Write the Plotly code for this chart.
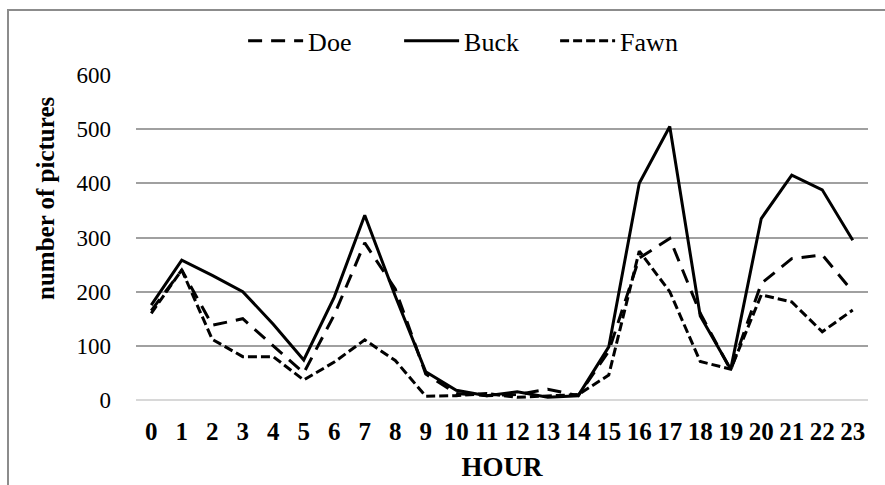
import plotly.graph_objects as go

hours = [str(h) for h in range(24)]
doe = [165, 240, 138, 150, 100, 50, 157, 290, 205, 48, 12, 8, 10, 20, 8, 90, 262, 298, 160, 55, 215, 261, 268, 200]
buck = [175, 258, 230, 200, 140, 74, 190, 341, 192, 52, 18, 8, 15, 5, 8, 98, 400, 505, 155, 57, 335, 415, 388, 295]
fawn = [160, 240, 112, 80, 80, 37, 70, 111, 73, 7, 8, 12, 5, 8, 10, 46, 275, 200, 71, 57, 194, 181, 126, 166]
y_ticks = [0, 100, 200, 300, 400, 500, 600]

FONT = "Liberation Serif"

fig = go.Figure()
fig.add_trace(go.Scatter(x=hours, y=doe, name="Doe", mode="lines",
                         line=dict(color="black", width=3, dash="14px,9px")))
fig.add_trace(go.Scatter(x=hours, y=buck, name="Buck", mode="lines",
                         line=dict(color="black", width=3)))
fig.add_trace(go.Scatter(x=hours, y=fawn, name="Fawn", mode="lines",
                         line=dict(color="black", width=3, dash="9px,4px")))

fig.update_layout(
    width=885, height=485,
    margin=dict(l=136, r=17, t=75, b=85, autoexpand=False),
    paper_bgcolor="white", plot_bgcolor="white",
    font=dict(family=FONT, color="black"),
    showlegend=True,
    legend=dict(orientation="h", x=0.466, xanchor="center", y=1.105, yanchor="middle",
                font=dict(size=26, family=FONT, color="black"), itemwidth=55,
                entrywidth=86, bgcolor="rgba(0,0,0,0)"),
    xaxis=dict(type="category", categoryorder="array", categoryarray=hours,
               range=[-0.5, 23.5], showgrid=False, showline=False, zeroline=False,
               automargin=False,
               tickfont=dict(size=25, family=FONT, color="black", weight="bold"),
               ticks="", ticklabelstandoff=14,
               title=dict(text="<b>HOUR</b>", font=dict(size=27, family=FONT, color="black"), standoff=13)),
    yaxis=dict(range=[0, 600], tickvals=y_ticks, showgrid=True, gridcolor="#a0a0a0", gridwidth=1.5,
               zeroline=True, zerolinecolor="#d8d8d8", zerolinewidth=1.5, showline=False,
               automargin=False,
               tickfont=dict(size=23, family=FONT, color="black"), ticks="", ticklabelstandoff=24),
)

fig.add_annotation(text="<b>number of pictures</b>", xref="paper", yref="paper",
                   x=(45 - 136) / 732, y=(400 - 198) / 325, textangle=-90, showarrow=False,
                   font=dict(size=25, family=FONT, color="black"), xanchor="center", yanchor="middle")

fig.add_shape(type="rect", xref="paper", yref="paper",
              x0=(8 - 136) / 732, x1=(920 - 136) / 732, y0=(400 - 520) / 325, y1=(400 - 10) / 325,
              line=dict(color="#8c8c8c", width=2), fillcolor="rgba(0,0,0,0)", layer="below")

fig.write_html("out.html", config={"displayModeBar": False},
               post_script="document.body.style.margin='0';document.body.style.overflow='hidden';")
